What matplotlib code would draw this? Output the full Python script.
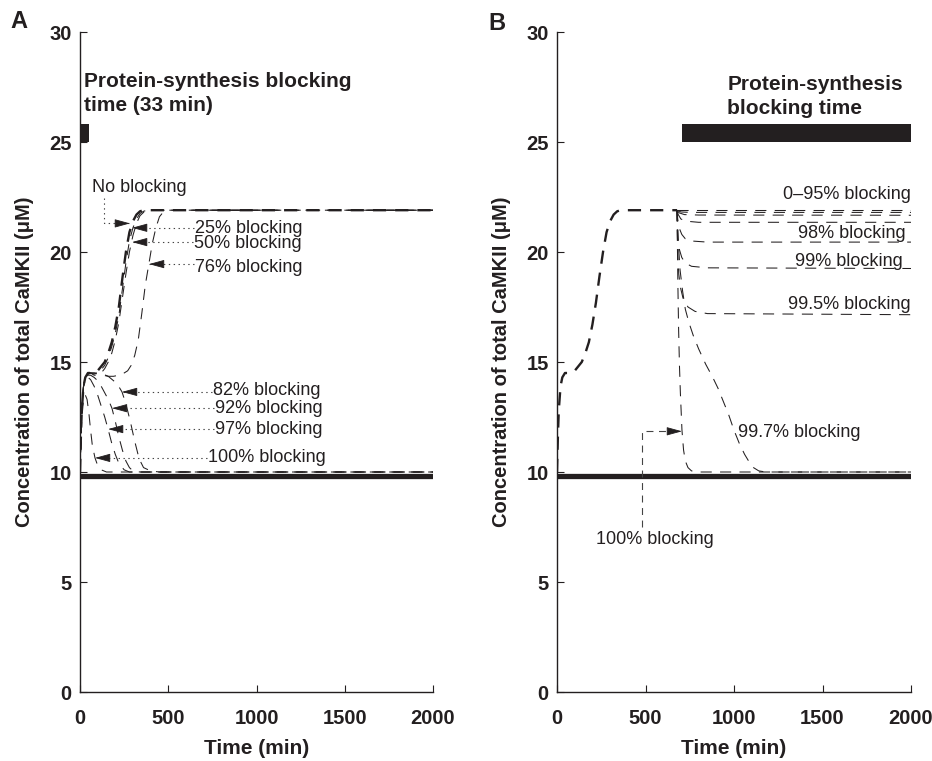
import numpy as np
import matplotlib
matplotlib.use("Agg")
from matplotlib import pyplot as plt
from matplotlib.patches import Rectangle

plt.rcParams['font.family'] = ['Liberation Sans', 'DejaVu Sans']
plt.rcParams['lines.scale_dashes'] = False
INK = '#231f20'

# ---------------- panel A data (time in min, CaMKII in uM) ----------------
t_none = [0, 5, 10, 20, 30, 45, 60, 80, 100, 120, 140, 160, 180, 200, 220, 240, 260, 280, 300, 320, 340, 360, 400, 2000]
y_none = [10, 11.6, 12.8, 13.9, 14.3, 14.5, 14.5, 14.5, 14.6, 14.8, 15.0, 15.4, 15.9, 16.6, 17.5, 18.8, 20.0, 20.9, 21.4, 21.7, 21.85, 21.9, 21.9, 21.9]

t_25 = [0, 5, 10, 20, 30, 45, 60, 80, 100, 120, 140, 160, 180, 200, 220, 240, 260, 280, 300, 320, 340, 360, 380, 2000]
y_25 = [10, 11.6, 12.8, 13.9, 14.3, 14.5, 14.5, 14.45, 14.5, 14.65, 14.85, 15.2, 15.7, 16.3, 17.1, 18.3, 19.5, 20.5, 21.1, 21.5, 21.75, 21.85, 21.9, 21.9]

t_50 = [0, 5, 10, 20, 30, 45, 60, 80, 100, 120, 140, 160, 180, 200, 220, 240, 260, 280, 300, 320, 340, 360, 380, 2000]
y_50 = [10, 11.6, 12.8, 13.9, 14.3, 14.5, 14.5, 14.4, 14.4, 14.5, 14.7, 15.0, 15.4, 16.0, 16.8, 17.9, 19.0, 20.0, 20.75, 21.3, 21.65, 21.8, 21.9, 21.9]

t_76 = [0, 5, 10, 20, 30, 45, 60, 80, 100, 130, 160, 190, 220, 250, 270, 290, 310, 330, 350, 370, 390, 410, 430, 450, 470, 500, 2000]
y_76 = [10, 11.6, 12.8, 13.9, 14.3, 14.45, 14.5, 14.5, 14.45, 14.4, 14.35, 14.35, 14.4, 14.5, 14.6, 14.85, 15.3, 16.0, 17.2, 18.5, 19.45, 20.4, 21.1, 21.6, 21.8, 21.9, 21.9]

t_82 = [0, 5, 10, 20, 30, 45, 60, 80, 100, 130, 160, 190, 215, 238, 260, 285, 310, 335, 360, 400, 450, 2000]
y_82 = [10, 11.6, 12.8, 13.9, 14.3, 14.45, 14.5, 14.5, 14.5, 14.45, 14.35, 14.15, 13.95, 13.64, 13.1, 12.3, 11.4, 10.6, 10.2, 10.05, 10.0, 10.0]

t_92 = [0, 5, 10, 20, 30, 45, 60, 80, 100, 120, 140, 160, 181, 200, 220, 240, 260, 280, 300, 340, 2000]
y_92 = [10, 11.6, 12.8, 13.9, 14.3, 14.4, 14.4, 14.3, 14.15, 13.9, 13.6, 13.3, 12.9, 12.3, 11.6, 11.0, 10.5, 10.2, 10.05, 10.0, 10.0]

t_97 = [0, 5, 10, 20, 30, 45, 60, 80, 100, 120, 140, 159, 180, 200, 220, 250, 280, 2000]
y_97 = [10, 11.6, 12.8, 13.9, 14.2, 14.3, 14.2, 13.9, 13.5, 13.0, 12.5, 11.95, 11.3, 10.8, 10.4, 10.1, 10.0, 10.0]

t_100a = [0, 5, 10, 20, 30, 40, 50, 60, 70, 85, 100, 120, 150, 200, 2000]
y_100a = [10, 11.4, 12.4, 13.3, 13.5, 13.3, 12.7, 11.9, 11.2, 10.64, 10.3, 10.1, 10.0, 10.0, 10.0]

block_a = (0, 50)

# ---------------- panel B data ----------------
t_pre = [0, 5, 10, 20, 30, 45, 60, 80, 100, 120, 140, 160, 180, 200, 220, 240, 260, 280, 300, 320, 340, 360, 400, 678]
y_pre = [10, 11.6, 12.8, 13.9, 14.3, 14.5, 14.5, 14.5, 14.6, 14.8, 15.0, 15.4, 15.9, 16.7, 17.7, 18.9, 20.0, 20.9, 21.4, 21.7, 21.85, 21.9, 21.9, 21.9]

t_b0 = [678, 2000]
y_b0 = [21.9, 21.9]
t_b80 = [678, 700, 750, 2000]
y_b80 = [21.9, 21.82, 21.8, 21.8]
t_b90 = [678, 690, 720, 800, 2000]
y_b90 = [21.9, 21.78, 21.7, 21.68, 21.67]
t_b95 = [678, 685, 700, 730, 800, 2000]
y_b95 = [21.9, 21.7, 21.5, 21.4, 21.35, 21.35]
t_b98 = [678, 682, 690, 705, 725, 760, 850, 2000]
y_b98 = [21.9, 21.5, 21.1, 20.8, 20.6, 20.5, 20.45, 20.45]
t_b99 = [678, 680, 684, 692, 705, 725, 760, 850, 2000]
y_b99 = [21.9, 21.3, 20.6, 20.1, 19.75, 19.5, 19.35, 19.28, 19.25]
t_b995 = [678, 680, 683, 688, 697, 712, 740, 780, 850, 2000]
y_b995 = [21.9, 20.8, 19.8, 19.0, 18.4, 17.9, 17.5, 17.3, 17.2, 17.15]
t_b997 = [678, 685, 695, 710, 725, 745, 770, 800, 840, 880, 910, 940, 970, 1000, 1030, 1060, 1090, 1110, 1140, 1180, 2000]
y_b997 = [21.9, 20.5, 19.2, 18.2, 17.4, 16.8, 16.2, 15.6, 14.9, 14.3, 13.8, 13.2, 12.6, 11.9, 11.3, 10.8, 10.4, 10.2, 10.05, 10.0, 10.0]
t_b100 = [678, 680, 683, 687, 692, 697, 706, 715, 725, 740, 760, 800, 2000]
y_b100 = [21.9, 20.5, 18.5, 16.5, 14.8, 13.6, 11.9, 11.0, 10.5, 10.2, 10.05, 10.0, 10.0]

block_b = (706, 2000)

baseline = 9.8

fig = plt.figure(figsize=(9.32, 7.61), dpi=100)
axA = fig.add_axes([80/932, 69/761, 353/932, 660/761])
axB = fig.add_axes([557/932, 69/761, 354/932, 660/761])

thick = dict(color=INK, lw=1.7, dashes=(9.5, 6.5))
thin = dict(color=INK, lw=0.75, dashes=(8, 6))


def style(ax):
    ax.set_xlim(0, 2000)
    ax.set_ylim(0, 30)
    ax.set_xticks([0, 500, 1000, 1500, 2000])
    ax.set_yticks([0, 5, 10, 15, 20, 25, 30])
    for s in ['top', 'right']:
        ax.spines[s].set_visible(False)
    for s in ['left', 'bottom']:
        ax.spines[s].set_linewidth(1.0)
        ax.spines[s].set_color(INK)
    ax.tick_params(direction='in', length=5, width=0.8, colors=INK, labelsize=14.5)
    ax.tick_params(axis='x', pad=12)
    ax.tick_params(axis='y', pad=6)
    for lab in ax.get_xticklabels() + ax.get_yticklabels():
        lab.set_fontweight('bold')
    ax.set_xlabel('Time (min)', fontsize=15, fontweight='bold', color=INK)
    ax.set_ylabel('Concentration of total CaMKII (\u03bcM)', fontsize=14.5, fontweight='bold', color=INK)
    ax.xaxis.set_label_coords(0.5, -0.071)
    ax.yaxis.set_label_coords(-0.131, 0.5)
    ax.plot([0, 2000], [baseline, baseline], color=INK, lw=3.8, solid_capstyle='butt')


def leader(ax, pts, ls=(0, (1, 2.5)), lw=0.8):
    xs = [p[0] for p in pts]
    ys = [p[1] for p in pts]
    ax.plot(xs, ys, color='#444444', lw=lw, linestyle=ls)
    tip = pts[-1]
    sgn = 1 if pts[-2][0] > tip[0] else -1
    ax.annotate('', xy=tip, xytext=(sgn * 10, 0), textcoords='offset points',
                arrowprops=dict(arrowstyle='-|>,head_length=0.95,head_width=0.26',
                                color=INK, lw=0.6, shrinkA=0, shrinkB=0))


style(axA)
style(axB)

# panel A curves
for tt, yy in [(t_25, y_25), (t_50, y_50), (t_76, y_76), (t_82, y_82),
               (t_92, y_92), (t_97, y_97), (t_100a, y_100a)]:
    axA.plot(tt, yy, **thin)
axA.plot(t_none, y_none, **thick)
axA.add_patch(Rectangle((block_a[0], 25.0), block_a[1] - block_a[0], 0.8, color=INK, lw=0, clip_on=False))

lab_kw = dict(fontsize=13, color=INK, va='center', ha='left')
axA.text(68, 22.95, 'No blocking', **lab_kw)
leader(axA, [(136, 22.45), (136, 21.3), (283, 21.3)])
axA.text(652, 21.05, '25% blocking', **lab_kw)
leader(axA, [(645, 21.1), (295, 21.1)])
axA.text(646, 20.4, '50% blocking', **lab_kw)
leader(axA, [(640, 20.45), (295, 20.45)])
axA.text(652, 19.3, '76% blocking', **lab_kw)
leader(axA, [(645, 19.45), (391, 19.45)])
axA.text(754, 13.7, '82% blocking', **lab_kw)
leader(axA, [(748, 13.64), (238, 13.64)])
axA.text(765, 12.9, '92% blocking', **lab_kw)
leader(axA, [(758, 12.9), (181, 12.9)])
axA.text(765, 11.95, '97% blocking', **lab_kw)
leader(axA, [(758, 11.95), (159, 11.95)])
axA.text(725, 10.64, '100% blocking', **lab_kw)
leader(axA, [(718, 10.64), (85, 10.64)])
axA.text(20, 27.2, 'Protein-synthesis blocking\ntime (33 min)', fontsize=15, fontweight='bold',
         color=INK, va='center', ha='left', linespacing=1.35)

# panel B curves
for tt, yy in [(t_b0, y_b0), (t_b80, y_b80), (t_b90, y_b90), (t_b95, y_b95),
               (t_b98, y_b98), (t_b99, y_b99), (t_b995, y_b995), (t_b997, y_b997),
               (t_b100, y_b100)]:
    axB.plot(tt, yy, **thin)
axB.plot(t_pre, y_pre, **thick)
axB.add_patch(Rectangle((block_b[0], 25.0), block_b[1] - block_b[0], 0.8, color=INK, lw=0, clip_on=False))

axB.text(1277, 22.6, '0\u201395% blocking', **lab_kw)
axB.text(1362, 20.86, '98% blocking', **lab_kw)
axB.text(1345, 19.55, '99% blocking', **lab_kw)
axB.text(1305, 17.6, '99.5% blocking', **lab_kw)
axB.text(1023, 11.8, '99.7% blocking', **lab_kw)
axB.text(220, 6.95, '100% blocking', **lab_kw)
leader(axB, [(480, 7.5), (480, 11.85), (706, 11.85)], ls=(0, (5, 4)), lw=0.8)
axB.text(962, 27.06, 'Protein-synthesis\nblocking time', fontsize=15, fontweight='bold',
         color=INK, va='center', ha='left', linespacing=1.35)

fig.text(19/932, 1 - 22/761, 'A', fontsize=17, fontweight='bold', color=INK, ha='center', va='center')
fig.text(497/932, 1 - 23/761, 'B', fontsize=17, fontweight='bold', color=INK, ha='center', va='center')

fig.savefig('out.png', dpi=100)
